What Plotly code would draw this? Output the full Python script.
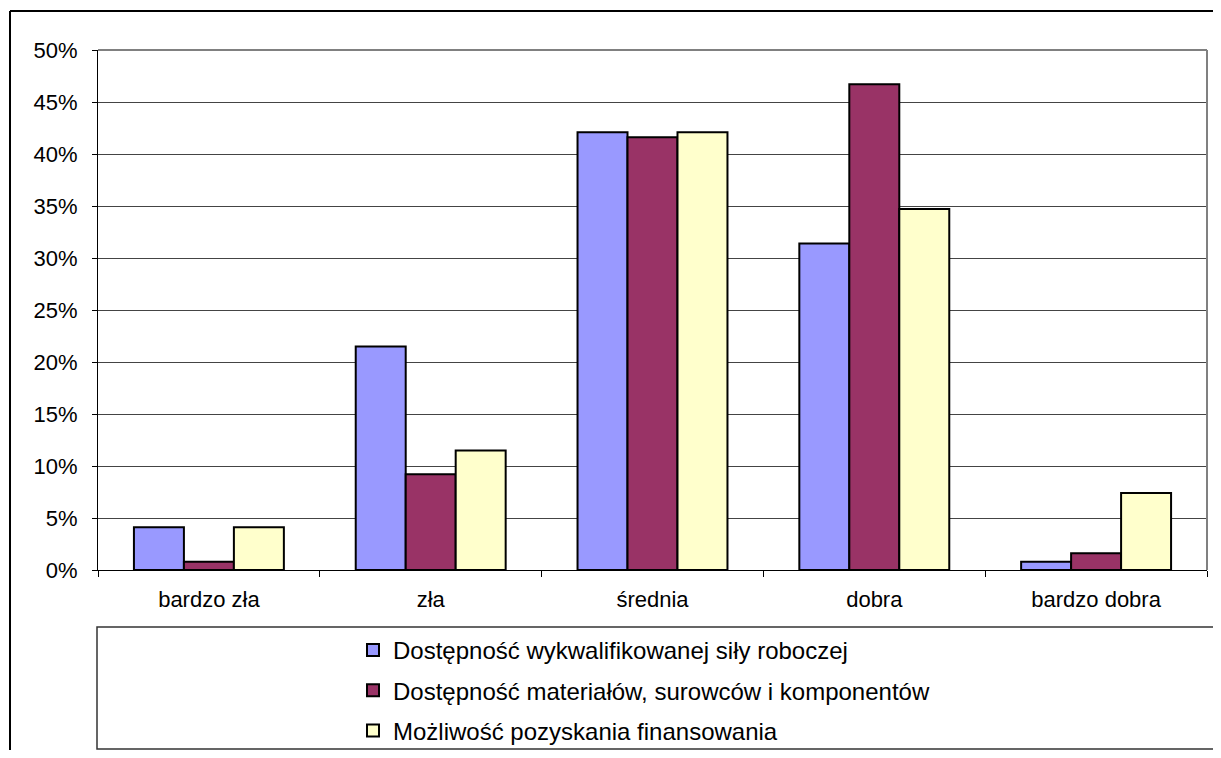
import plotly.graph_objects as go

categories = ["bardzo zła", "zła", "średnia", "dobra", "bardzo dobra"]
series_names = [
    "Dostępność wykwalifikowanej siły roboczej",
    "Dostępność materiałów, surowców i komponentów",
    "Możliwość pozyskania finansowania",
]
labour = [4.1, 21.5, 42.1, 31.4, 0.8]
materials = [0.8, 9.2, 41.6, 46.7, 1.6]
financing = [4.1, 11.5, 42.1, 34.7, 7.4]
y_ticks = [0, 5, 10, 15, 20, 25, 30, 35, 40, 45, 50]
y_tick_labels = ["0%", "5%", "10%", "15%", "20%", "25%", "30%", "35%", "40%", "45%", "50%"]

colors = ["#9999FF", "#993366", "#FFFFCC"]

# page is 1221x758; the html body has an 8px margin, so the figure is 16px smaller
OFF = 8
W, H = 1221 - 2 * OFF, 758 - 2 * OFF
L, R, T, B = 98 - OFF, 1207 - OFF, 50 - OFF, 570 - OFF


def px_x(p):
    return (p - OFF - L) / (R - L)


def px_y(p):
    return (B - (p - OFF)) / (B - T)


fig = go.Figure()
for i, (name, vals) in enumerate(zip(series_names, [labour, materials, financing])):
    fig.add_trace(go.Bar(
        x=categories, y=vals, name=name,
        marker=dict(color=colors[i], line=dict(color="black", width=2)),
        legendgroup=f"g{i}",
    ))

font = "Liberation Sans, Arial, sans-serif"

fig.update_layout(
    width=W, height=H,
    margin=dict(l=L, r=W - R, t=T, b=H - B, autoexpand=False),
    paper_bgcolor="white", plot_bgcolor="white",
    barmode="group", bargap=0.324, bargroupgap=0,
    font=dict(family=font, size=22, color="black"),
    showlegend=True,
    legend=dict(
        x=px_x(353), y=px_y(628), xanchor="left", yanchor="top",
        bgcolor="rgba(0,0,0,0)", borderwidth=0,
        font=dict(size=24, family=font, color="black"),
        traceorder="grouped", tracegroupgap=6,
    ),
    xaxis=dict(
        showline=True, linecolor="black", linewidth=1,
        ticks="outside", ticklen=6, tickcolor="black",
        tickson="boundaries", showgrid=False, automargin=False,
        tickfont=dict(size=22), ticklabelstandoff=10,
    ),
    yaxis=dict(
        range=[0, 50], tickvals=y_ticks, ticktext=y_tick_labels,
        showline=True, linecolor="black", linewidth=1,
        ticks="outside", ticklen=5, tickcolor="black",
        showgrid=True, gridcolor="#444444", gridwidth=1, automargin=False,
        tickfont=dict(size=22), ticklabelstandoff=10,
        zeroline=False,
    ),
)

shapes = [
    dict(type="line", xref="paper", yref="paper", x0=1, x1=1, y0=0, y1=1,
         line=dict(color="#808080", width=2)),
    dict(type="line", xref="paper", yref="paper", x0=0, x1=1, y0=1, y1=1,
         line=dict(color="#808080", width=2)),
    dict(type="rect", xref="paper", yref="paper",
         x0=px_x(97), x1=px_x(1216), y0=px_y(627), y1=px_y(749),
         line=dict(color="#333333", width=1.5), fillcolor="rgba(0,0,0,0)"),
    dict(type="line", xref="paper", yref="paper",
         x0=px_x(10), x1=px_x(1229), y0=px_y(11), y1=px_y(11),
         line=dict(color="black", width=2)),
    dict(type="line", xref="paper", yref="paper",
         x0=px_x(10), x1=px_x(10), y0=px_y(11), y1=px_y(766),
         line=dict(color="black", width=2)),
]
fig.update_layout(shapes=shapes)

fig.write_html("out.html")
